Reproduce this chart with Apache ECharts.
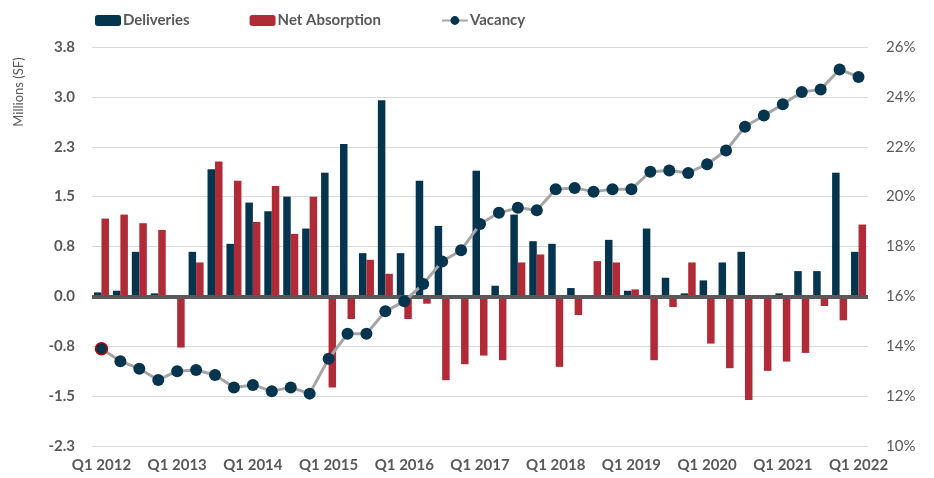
<!DOCTYPE html>
<html>
<head>
<meta charset="utf-8">
<script src="https://cdn.jsdelivr.net/npm/echarts@6/dist/echarts.min.js"></script>
<style>
  html, body { margin: 0; padding: 0; background: #fff; }
  #myChart { width: 934px; height: 478px; }
</style>
</head>
<body>
<div id="myChart"></div>
<script>
// quarters Q1 2012 .. Q1 2022
const quarters = [];
for (let y = 2012; y <= 2022; y++) {
  for (let q = 1; q <= 4; q++) {
    if (y === 2022 && q > 1) break;
    quarters.push("Q" + q + " " + y);
  }
}

// millions of SF
const deliveries = [
  0.06, 0.085, 0.67, 0.045, 0, 0.67, 1.91, 0.79, 1.41, 1.28, 1.50, 1.02,
  1.86, 2.29, 0.65, 2.95, 0.65, 1.74, 1.06, 0, 1.89, 0.16, 1.23, 0.83,
  0.79, 0.125, 0.01, 0.85, 0.085, 1.02, 0.28, 0.045, 0.24, 0.51, 0.67, 0,
  0.045, 0.38, 0.38, 1.86, 0.67
];
const netAbsorption = [
  1.17, 1.23, 1.10, 1.00, -0.77, 0.51, 2.03, 1.74, 1.12, 1.66, 0.94, 1.50,
  -1.37, -0.34, 0.55, 0.34, -0.34, -0.11, -1.26, -1.02, -0.89, -0.96, 0.51, 0.63,
  -1.06, -0.28, 0.53, 0.51, 0.105, -0.96, -0.16, 0.51, -0.71, -1.08, -1.56, -1.12,
  -0.98, -0.85, -0.145, -0.36, 1.08
];
// percent
const vacancy = [
  13.9, 13.4, 13.1, 12.65, 13.0, 13.05, 12.85, 12.35, 12.45, 12.2, 12.35, 12.1,
  13.5, 14.5, 14.5, 15.4, 15.8, 16.5, 17.4, 17.85, 18.9, 19.35, 19.55, 19.45,
  20.3, 20.35, 20.2, 20.3, 20.3, 21.0, 21.05, 20.95, 21.3, 21.85, 22.8, 23.25,
  23.7, 24.2, 24.3, 25.1, 24.8
];

const leftTickLabels = ["-2.3", "-1.5", "-0.8", "0.0", "0.8", "1.5", "2.3", "3.0", "3.8"];
const leftMin = -2.25, leftMax = 3.75, leftStep = 0.75;

const textColor = "#595959";
const fontFamily = "Lato, 'Noto Sans', sans-serif";

const option = {
  animation: false,
  textStyle: { fontFamily: fontFamily },
  legend: {
    left: 90,
    top: 8,
    itemWidth: 26,
    itemHeight: 11,
    itemGap: 60,
    textStyle: {
      color: textColor,
      fontSize: 15,
      fontWeight: "bold",
      fontFamily: fontFamily,
      padding: [0, 0, 0, -3],
    },
    data: ["Deliveries", "Net Absorption", "Vacancy"],
  },
  grid: { left: 92, right: 66, top: 47, bottom: 32 },
  graphic: [
    {
      type: "text",
      x: 19,
      y: 92,
      rotation: Math.PI / 2,
      style: {
        text: "Millions (SF)",
        fill: textColor,
        font: "13px " + fontFamily,
        align: "center",
        verticalAlign: "middle",
      },
    },
  ],
  xAxis: {
    type: "category",
    data: quarters,
    axisLine: { show: false },
    axisTick: { show: false },
    axisLabel: {
      interval: 3,
      color: textColor,
      fontSize: 15,
      fontWeight: "bold",
      margin: 12,
    },
  },
  yAxis: [
    {
      type: "value",
      min: leftMin,
      max: leftMax,
      interval: leftStep,
      axisLine: { show: false },
      axisTick: { show: false },
      axisLabel: {
        color: textColor,
        fontSize: 15,
        fontWeight: "bold",
        margin: 17,
        formatter: function (v) {
          return leftTickLabels[Math.round((v - leftMin) / leftStep)];
        },
      },
      splitLine: { lineStyle: { color: "#d9d9d9", width: 1 } },
    },
    {
      type: "value",
      min: 10,
      max: 26,
      interval: 2,
      axisLine: { show: false },
      axisTick: { show: false },
      splitLine: { show: false },
      axisLabel: { color: textColor, fontSize: 15, margin: 18, formatter: "{value}%" },
    },
  ],
  series: [
    {
      name: "Deliveries",
      type: "bar",
      data: deliveries,
      barWidth: 7.5,
      barGap: "0%",
      itemStyle: { color: "#05344f" },
      markLine: {
        silent: true,
        symbol: "none",
        label: { show: false },
        lineStyle: { color: "#595959", width: 4, type: "solid" },
        data: [{ yAxis: 0 }],
        z: 5,
      },
    },
    {
      name: "Net Absorption",
      type: "bar",
      data: netAbsorption,
      barWidth: 7.5,
      barGap: "0%",
      itemStyle: { color: "#b02a37" },
    },
    {
      name: "Vacancy",
      type: "line",
      yAxisIndex: 1,
      data: vacancy.map((v, i) =>
        i === 0 ? { value: v, itemStyle: { borderColor: "#c00000", borderWidth: 1.5 } } : v
      ),
      symbol: "circle",
      symbolSize: 12,
      lineStyle: { color: "#a6a6a6", width: 3 },
      itemStyle: { color: "#05344f", borderWidth: 0 },
      z: 10,
    },
  ],
};

const chart = echarts.init(document.getElementById("myChart"));
chart.setOption(option);
</script>
</body>
</html>
